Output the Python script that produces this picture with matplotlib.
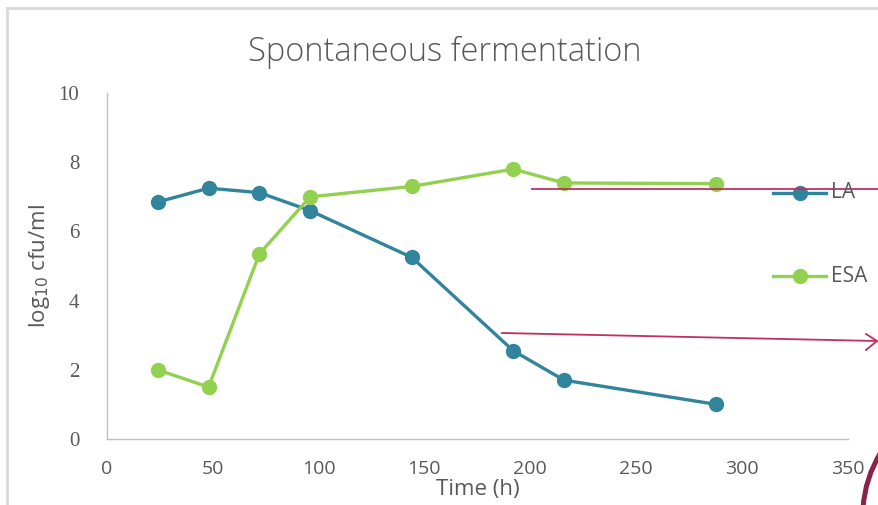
import matplotlib
matplotlib.use("Agg")
import matplotlib.pyplot as plt
from matplotlib.lines import Line2D
from matplotlib.patches import PathPatch
from matplotlib.path import Path

time_h = [24, 48, 72, 96, 144, 192, 216, 288]
la_vals = [6.85, 7.25, 7.12, 6.6, 5.25, 2.55, 1.7, 1.0]
esa_vals = [2.0, 1.5, 5.35, 7.0, 7.3, 7.8, 7.4, 7.38]
series_names = ["LA", "ESA"]
x_ticks = [0, 50, 100, 150, 200, 250, 300, 350]
y_ticks = [0, 2, 4, 6, 8, 10]

LA_C = "#31849B"
ESA_C = "#92D050"
TXT = "#595959"
W, H = 879, 505

fig = plt.figure(figsize=(W / 100, H / 100), dpi=100)
fig.patch.set_facecolor("white")
x0, x1 = 107, 107 + 350 * 2.116
yt, yb = 93, 439
ax = fig.add_axes([x0 / W, 1 - yb / H, (x1 - x0) / W, (yb - yt) / H])
ax.set_xlim(0, 350)
ax.set_ylim(0, 10)
ax.set_facecolor("none")
for s in ["top", "right"]:
    ax.spines[s].set_visible(False)
for s in ["left", "bottom"]:
    ax.spines[s].set_color("#BFBFBF")
    ax.spines[s].set_linewidth(1)
ax.set_xticks(x_ticks)
ax.set_yticks(y_ticks)
ax.tick_params(length=0, colors=TXT)
ax.tick_params(axis="x", pad=15, labelsize=14)
ax.tick_params(axis="y", pad=20, labelsize=15)
for lab in ax.get_xticklabels():
    lab.set_family("Open Sans")
for lab in ax.get_yticklabels():
    lab.set_family("Liberation Serif")

ax.plot(time_h, la_vals, color=LA_C, lw=2.4, marker="o", ms=10, clip_on=False, zorder=3)
ax.plot(time_h, esa_vals, color=ESA_C, lw=2.4, marker="o", ms=10, clip_on=False, zorder=3)

fig.text(445 / W, 1 - 52 / H, "Spontaneous fermentation", ha="center", va="center",
         fontsize=23.5, color=TXT, family="Open Sans", fontweight="light")
fig.text(40 / W, 1 - 266 / H, r"log$_{10}$ cfu/ml", ha="center", va="center", rotation=90,
         fontsize=16, color=TXT, family="Open Sans")
fig.text(478 / W, 1 - 489 / H, "Time (h)", ha="center", va="center",
         fontsize=16, color=TXT, family="Open Sans")

# legend
for name, col, yy in [(series_names[0], LA_C, 193), (series_names[1], ESA_C, 276)]:
    fig.add_artist(Line2D([773 / W, 826 / W], [1 - yy / H, 1 - yy / H], color=col, lw=2.4))
    fig.add_artist(Line2D([800 / W], [1 - yy / H], color=col, marker="o", ms=10))
    fig.text(831 / W, 1 - yy / H, name, ha="left", va="center", fontsize=15,
             color=TXT, family="Open Sans")

# border of chart area
fig.add_artist(Line2D([7 / W, 7 / W], [0, 1 - 8 / H], color="#D9D9D9", lw=2))
fig.add_artist(Line2D([7 / W, 1], [1 - 8 / H, 1 - 8 / H], color="#D9D9D9", lw=2))

# annotation arrows
AC = "#C0305E"
fig.add_artist(Line2D([532 / W, 1], [1 - 189 / H, 1 - 189 / H], color=AC, lw=1.3))
fig.add_artist(Line2D([502 / W, 877 / W], [1 - 333 / H, 1 - 341 / H], color=AC, lw=1.3))
fig.add_artist(Line2D([866 / W, 877 / W, 866 / W], [1 - 334 / H, 1 - 341 / H, 1 - 350 / H],
                      color=AC, lw=1.3))
# dark red curve bottom right
verts = [(863 / W, 1 - 508 / H), (865 / W, 1 - 478 / H), (881 / W, 1 - 452 / H)]
curve = PathPatch(Path(verts, [Path.MOVETO, Path.CURVE3, Path.CURVE3]),
                  transform=fig.transFigure, facecolor="none", edgecolor="#8B2346", lw=3.6)
fig.add_artist(curve)

fig.savefig("out.png", dpi=100)
